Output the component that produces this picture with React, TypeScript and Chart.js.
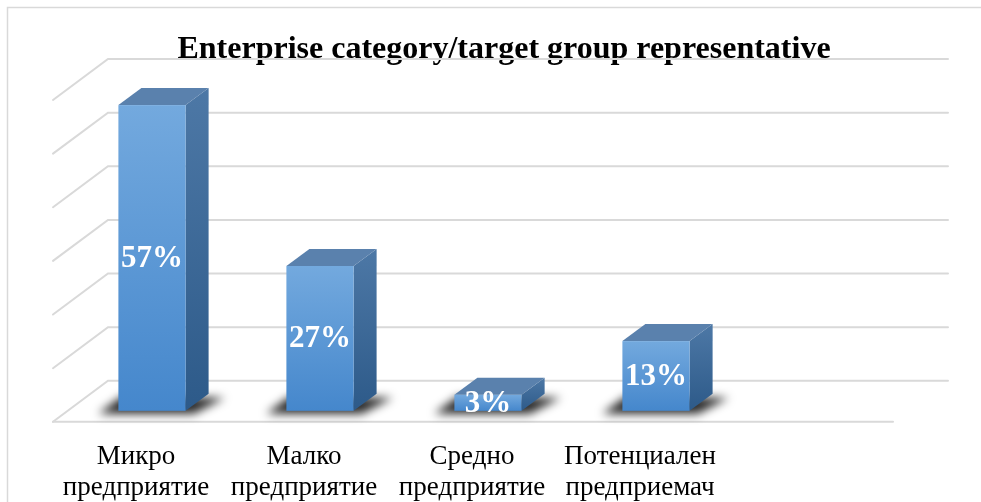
import React, { useEffect, useRef } from "react";
import { Chart, registerables } from "chart.js";

Chart.register(...registerables);

// ---- data ----
const title = "Enterprise category/target group representative";
const categories: string[][] = [
  ["Микро", "предприятие"],
  ["Малко", "предприятие"],
  ["Средно", "предприятие"],
  ["Потенциален", "предприемач"],
  [""],
];
const values: (number | null)[] = [57, 27, 3, 13, null];
const valueLabels: string[] = ["57%", "27%", "3%", "13%", ""];
const yTicks: number[] = [0, 10, 20, 30, 40, 50, 60];

// ---- 3D geometry (offsets from the bar-front plane) ----
const BACK = { dx: 40, dy: -30 };
const FRONT = { dx: -15, dy: 11 };
const BAR = { dx: 23, dy: -17 };

const threeD = {
  id: "threeD",
  beforeDraw(chart: any) {
    const ctx = chart.ctx as CanvasRenderingContext2D;
    ctx.save();
    ctx.fillStyle = "#ffffff";
    ctx.fillRect(0, 0, chart.width, chart.height);
    ctx.strokeStyle = "#D9D9D9";
    ctx.lineWidth = 1.5;
    ctx.strokeRect(7.5, 7.5, chart.width + 10, chart.height + 10);
    // title
    ctx.fillStyle = "#000";
    ctx.font = 'bold 32px "Liberation Serif"';
    ctx.textAlign = "center";
    ctx.textBaseline = "middle";
    ctx.fillText(title, 504, 50);
    ctx.restore();
  },
  beforeDatasetsDraw(chart: any) {
    const ctx = chart.ctx as CanvasRenderingContext2D;
    const ca = chart.chartArea;
    const y = chart.scales.y;
    ctx.save();
    ctx.strokeStyle = "#D9D9D9";
    ctx.lineWidth = 2;
    ctx.lineCap = "round";
    yTicks.forEach((t) => {
      const py = y.getPixelForValue(t);
      ctx.beginPath();
      ctx.moveTo(ca.left + FRONT.dx, py + FRONT.dy);
      ctx.lineTo(ca.left + BACK.dx, py + BACK.dy);
      ctx.lineTo(ca.right + BACK.dx, py + BACK.dy);
      ctx.stroke();
    });
    const py0 = y.getPixelForValue(yTicks[0]);
    ctx.beginPath();
    ctx.moveTo(ca.left + FRONT.dx, py0 + FRONT.dy);
    ctx.lineTo(ca.right + FRONT.dx, py0 + FRONT.dy);
    ctx.stroke();
    ctx.restore();
  },
  afterDatasetsDraw(chart: any) {
    const ctx = chart.ctx as CanvasRenderingContext2D;
    const meta = chart.getDatasetMeta(0);
    meta.data.forEach((bar: any, i: number) => {
      if (values[i] == null) return;
      const { x, y: top, base, width } = bar.getProps(["x", "y", "base", "width"], true);
      const l = x - width / 2;
      const r = x + width / 2;
      // floor shadow
      ctx.save();
      ctx.filter = "blur(5px)";
      ctx.fillStyle = "rgba(0,0,0,0.85)";
      ctx.beginPath();
      ctx.moveTo(l - 20, base + 3);
      ctx.lineTo(r + 8, base + 3);
      ctx.lineTo(r + BAR.dx + 16, base + BAR.dy + 4);
      ctx.lineTo(l + 3, base + BAR.dy + 3);
      ctx.closePath();
      ctx.fill();
      ctx.restore();

      ctx.save();
      // side face
      const gs = ctx.createLinearGradient(0, top + BAR.dy, 0, base);
      gs.addColorStop(0, "#4D78A6");
      gs.addColorStop(1, "#2D5A89");
      ctx.fillStyle = gs;
      ctx.beginPath();
      ctx.moveTo(r, top);
      ctx.lineTo(r + BAR.dx, top + BAR.dy);
      ctx.lineTo(r + BAR.dx, base + BAR.dy);
      ctx.lineTo(r, base);
      ctx.closePath();
      ctx.fill();
      // top face
      ctx.fillStyle = "#5A81AD";
      ctx.beginPath();
      ctx.moveTo(l, top);
      ctx.lineTo(l + BAR.dx, top + BAR.dy);
      ctx.lineTo(r + BAR.dx, top + BAR.dy);
      ctx.lineTo(r, top);
      ctx.closePath();
      ctx.fill();
      // front face
      const gf = ctx.createLinearGradient(0, top, 0, base);
      gf.addColorStop(0, "#73A9DE");
      gf.addColorStop(1, "#4587CC");
      ctx.fillStyle = gf;
      ctx.fillRect(l, top, r - l, base - top);
      // value label
      ctx.fillStyle = "#ffffff";
      ctx.font = 'bold 31px "Liberation Serif"';
      ctx.textAlign = "center";
      ctx.textBaseline = "middle";
      ctx.fillText(valueLabels[i], x, (top + base) / 2 + 1);
      ctx.restore();
    });
  },
};

export default function App() {
  const ref = useRef<HTMLCanvasElement>(null);
  useEffect(() => {
    document.body.style.margin = "0";
    const chart = new Chart(ref.current!, {
      type: "bar",
      data: {
        labels: categories,
        datasets: [
          {
            data: values,
            backgroundColor: "rgba(0,0,0,0)",
            borderWidth: 0,
            barPercentage: 0.4,
            categoryPercentage: 1,
          },
        ],
      },
      options: {
        responsive: false,
        animation: false,
        layout: { padding: { left: 68, right: 73, top: 89, bottom: -32 } },
        plugins: {
          legend: { display: false },
          title: { display: false },
          tooltip: { enabled: false },
        },
        scales: {
          x: {
            grid: { display: false, drawTicks: false },
            border: { display: false },
            ticks: {
              color: "#000",
              font: { family: '"Liberation Serif"', size: 27, lineHeight: 1.17 },
              padding: 30,
              labelOffset: -16,
              maxRotation: 0,
              autoSkip: false,
            },
          },
          y: { display: false, min: 0, max: 60, ticks: { stepSize: 10 } },
        },
      },
      plugins: [threeD],
    } as any);
    return () => chart.destroy();
  }, []);
  return (
    <div style={{ width: 981, height: 502 }}>
      <canvas ref={ref} width={981} height={502} style={{ display: "block" }} />
    </div>
  );
}
